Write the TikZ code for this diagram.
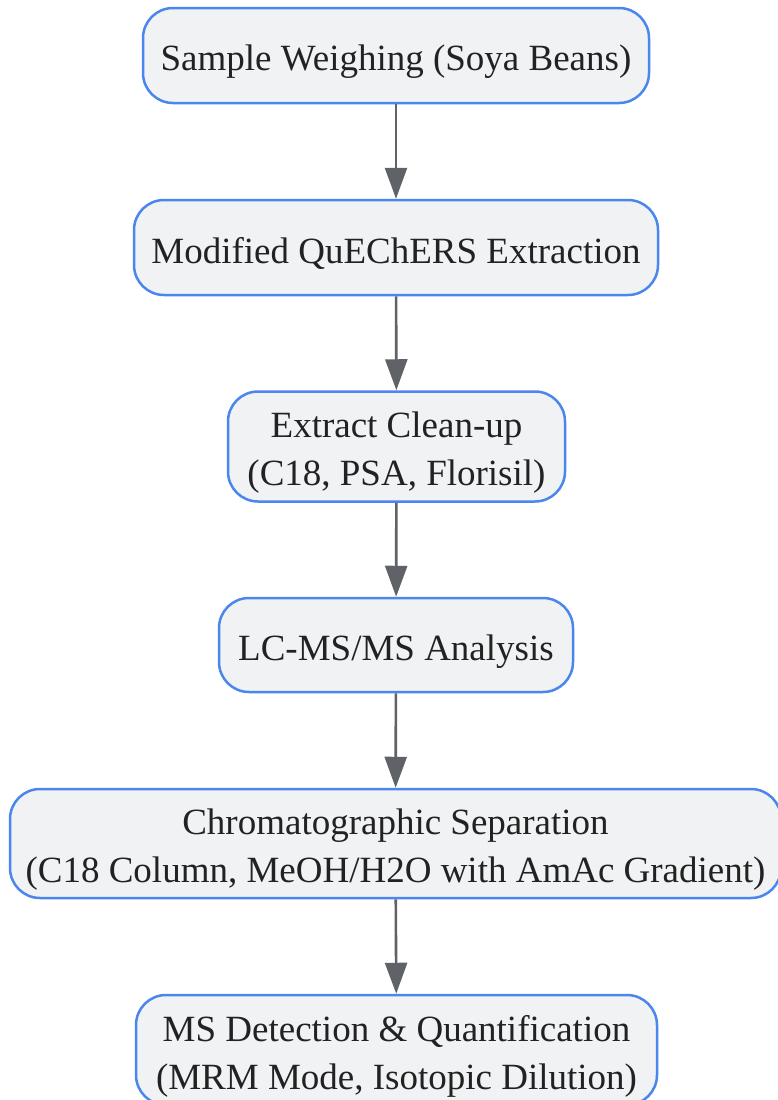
\documentclass[tikz,border=0pt]{standalone}
\usepackage{fontspec}
\setmainfont{Liberation Serif}
\usepackage{tikz}
\usetikzlibrary{arrows.meta}
\definecolor{boxblue}{HTML}{4A86EE}
\definecolor{boxfill}{HTML}{F1F2F4}
\definecolor{flowgray}{HTML}{5F6368}
\definecolor{txtdark}{HTML}{222222}
\newcommand{\topstrut}{\rule{0pt}{38pt}}

\begin{document}
\begin{tikzpicture}[x=1pt,y=-1pt,
		step box/.style={draw=boxblue,fill=boxfill,line width=2.5pt,rounded corners=30pt,
			align=center,text=txtdark,inner sep=0pt,font=\fontsize{37}{48}\selectfont},
		flow/.style={draw=flowgray,line width=2.6pt,-{Triangle[length=31pt,width=22pt]}}]
		\useasboundingbox (0,0) rectangle (777,1100);
		\node[step box,minimum width=506pt,minimum height=95pt] (weigh) at (396,55.5) {\topstrut Sample Weighing (Soya Beans)};
		\node[step box,minimum width=524pt,minimum height=95pt] (extract) at (396,247.5) {\topstrut Modified QuEChERS Extraction};
		\node[step box,minimum width=337pt,minimum height=110pt] (cleanup) at (396.5,446.5) {\topstrut Extract Clean-up\\(C18, PSA, Florisil)};
		\node[step box,minimum width=354pt,minimum height=94pt] (lcms) at (396,645) {\topstrut LC-MS/MS Analysis};
		\node[step box,minimum width=771pt,minimum height=109pt] (chrom) at (395.5,843.5) {\topstrut Chromatographic Separation\\(C18 Column, MeOH/H2O with AmAc Gradient)};
		\node[step box,minimum width=521pt,minimum height=110pt] (detect) at (396.5,1050) {\topstrut MS Detection \& Quantification\\(MRM Mode, Isotopic Dilution)};
		\draw[flow] (weigh) -- (extract);
		\draw[flow] (extract) -- (cleanup);
		\draw[flow] (cleanup) -- (lcms);
		\draw[flow] (lcms) -- (chrom);
		\draw[flow] (chrom) -- (detect);
	\end{tikzpicture}
\end{document}
